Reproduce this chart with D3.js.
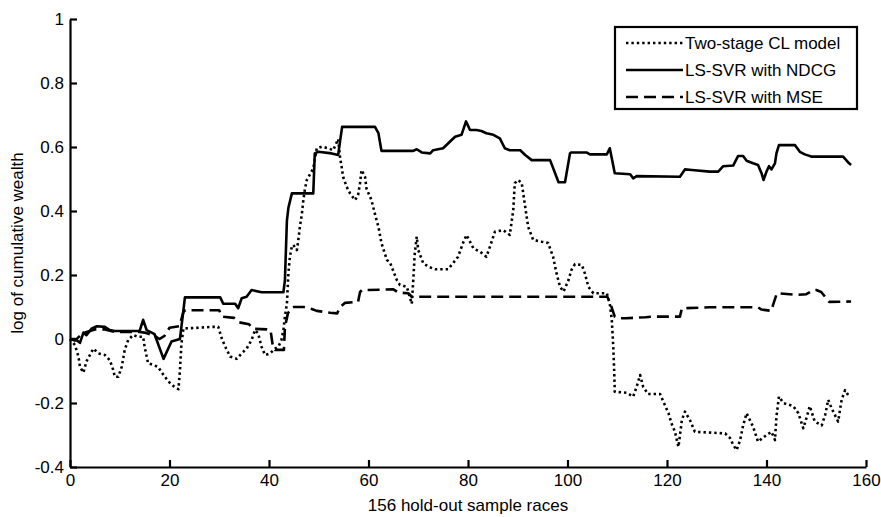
<!DOCTYPE html>
<html><head><meta charset="utf-8">
<script src="https://cdn.jsdelivr.net/npm/d3@7"></script>
<style>
body{margin:0;background:#fff}
text{font-family:"Liberation Sans",Arial,Helvetica,sans-serif}
</style>
</head><body>
<svg id="c" width="881" height="517"></svg>
<script>
// ---- data ----
const xTicks = [0, 20, 40, 60, 80, 100, 120, 140, 160];
const yTicks = [-0.4, -0.2, 0, 0.2, 0.4, 0.6, 0.8, 1];
const yTickLabels = ["-0.4", "-0.2", "0", "0.2", "0.4", "0.6", "0.8", "1"];
const seriesNames = ["Two-stage CL model", "LS-SVR with NDCG", "LS-SVR with MSE"];
const xTitle = "156 hold-out sample races";
const yTitle = "log of cumulative wealth";

// LS-SVR with NDCG (solid) [race, log wealth]
const ndcg = [[0,0],[1,0],[2,-0.012],[2.7,0.02],[3.3,0.012],[4.4,0.033],[5.4,0.04],[7,0.038],[8,0.028],[9,0.025],[14,0.025],[14.7,0.06],[15.4,0.028],[17,0.015],[18.8,-0.062],[20.4,-0.008],[22.1,0.0],[22.8,0.09],[23.1,0.13],[30.2,0.13],[30.8,0.11],[33.2,0.11],[33.8,0.096],[34.5,0.127],[35.5,0.132],[36.5,0.153],[38.5,0.146],[42.9,0.146],[43.2,0.184],[43.6,0.37],[43.9,0.41],[44.6,0.455],[48.9,0.455],[49.2,0.58],[49.9,0.585],[52.6,0.58],[53.9,0.575],[54.3,0.62],[54.7,0.663],[61.3,0.663],[62,0.643],[62.6,0.588],[69,0.588],[69.7,0.593],[70.7,0.583],[72.4,0.58],[73,0.59],[75,0.596],[76.4,0.617],[77.4,0.632],[78.7,0.638],[79.6,0.68],[80.4,0.653],[81.7,0.653],[82.7,0.65],[83.7,0.643],[85.1,0.638],[86.4,0.627],[87.4,0.596],[88.4,0.59],[90.5,0.59],[91.5,0.575],[92.8,0.559],[96.5,0.559],[98.2,0.49],[99.5,0.49],[100.5,0.58],[100.8,0.583],[103.8,0.583],[104.5,0.577],[107.9,0.577],[108.5,0.596],[109.5,0.518],[112.6,0.515],[113.2,0.502],[113.9,0.509],[122.6,0.507],[123.6,0.53],[125,0.528],[128.6,0.523],[130.3,0.523],[131.3,0.54],[133.3,0.542],[134.3,0.572],[135.3,0.572],[136,0.557],[137.3,0.549],[138.3,0.544],[139,0.518],[139.4,0.497],[140,0.523],[140.5,0.54],[141,0.53],[141.7,0.549],[142,0.58],[142.5,0.606],[145.7,0.606],[146.7,0.585],[147.7,0.577],[149,0.57],[155.4,0.57],[156.6,0.549],[157,0.544]];

// LS-SVR with MSE (dashed)
const mse = [[0,0],[1,-0.005],[2,0.01],[3,0.02],[5,0.03],[7,0.03],[9,0.022],[14,0.022],[15,0.02],[17,0.01],[18,0.0],[19,0.01],[20,0.035],[22,0.04],[22.8,0.085],[23.2,0.09],[30,0.09],[30.5,0.07],[33,0.066],[34,0.052],[36,0.046],[36.8,0.032],[39.6,0.03],[40.3,0.028],[40.8,-0.025],[41.2,-0.034],[43,-0.034],[43.2,0.037],[43.8,0.08],[44.5,0.097],[45,0.1],[47,0.1],[48.6,0.094],[49.6,0.088],[52.3,0.082],[53.7,0.08],[54.3,0.1],[55.3,0.113],[57.9,0.116],[58.3,0.147],[58.7,0.153],[65,0.155],[66,0.145],[68,0.143],[68.7,0.132],[108,0.132],[108.5,0.116],[109.5,0.07],[110,0.065],[111.7,0.065],[115.7,0.068],[117,0.07],[122.6,0.07],[123,0.096],[128.6,0.099],[138.3,0.099],[139,0.092],[141,0.088],[141.3,0.106],[142.1,0.143],[146,0.138],[148,0.14],[149.4,0.153],[150,0.153],[151,0.147],[152.6,0.116],[157,0.117]];

// Two-stage CL model (dotted)
const cl = [[0,0],[1,-0.019],[1.7,-0.055],[2,-0.087],[2.7,-0.105],[3.3,-0.07],[4.7,-0.03],[5.7,-0.045],[7,-0.05],[8,-0.066],[8.7,-0.097],[9,-0.118],[9.7,-0.118],[10.4,-0.087],[11,-0.034],[11.7,-0.003],[12.7,0.0125],[13.7,0.007],[14.7,0.007],[15,-0.024],[15.7,-0.076],[16.7,-0.081],[17.7,-0.087],[18.8,-0.1125],[19.8,-0.133],[20.8,-0.147],[21.8,-0.157],[22.1,-0.097],[22.4,-0.014],[22.8,0.033],[24.5,0.034],[28.8,0.038],[29.8,0.038],[30.5,0.002],[31.2,-0.024],[32.2,-0.055],[33.5,-0.062],[34.5,-0.045],[35.5,-0.03],[36.5,-0.003],[37.2,0.028],[37.8,0.018],[38.5,-0.024],[39.2,-0.05],[40.2,-0.045],[41.2,-0.03],[41.9,-0.024],[42.5,-0.003],[42.9,0.028],[43.2,0.07],[43.6,0.11],[43.9,0.205],[44.2,0.257],[44.6,0.29],[44.9,0.294],[45.6,0.278],[45.9,0.31],[46.2,0.35],[46.6,0.39],[46.9,0.434],[47.2,0.466],[47.6,0.497],[48.9,0.533],[49.6,0.596],[50.6,0.601],[51.9,0.596],[52.9,0.59],[53.9,0.625],[54.3,0.565],[54.6,0.538],[54.9,0.507],[55.6,0.476],[56.3,0.455],[57.3,0.434],[57.9,0.45],[58.3,0.487],[58.6,0.528],[59.3,0.507],[59.6,0.47],[60.6,0.434],[61.3,0.39],[62,0.35],[62.6,0.3],[63.7,0.247],[64.3,0.24],[65.7,0.184],[66.3,0.169],[67.7,0.163],[68.7,0.11],[69,0.184],[69.3,0.268],[69.7,0.32],[70,0.278],[71,0.237],[72,0.226],[73.4,0.218],[76,0.218],[77,0.237],[78,0.257],[79,0.3],[79.7,0.325],[80.4,0.304],[81.1,0.283],[82.4,0.273],[83.7,0.257],[84.4,0.288],[85.4,0.335],[87.1,0.34],[88.4,0.325],[89.1,0.403],[89.4,0.487],[90.1,0.497],[90.8,0.487],[91.5,0.413],[92.1,0.35],[93.1,0.31],[94.8,0.304],[96.1,0.3],[97.1,0.257],[97.8,0.205],[98.5,0.163],[99.2,0.148],[100.2,0.184],[100.8,0.216],[101.5,0.234],[102.9,0.231],[103.5,0.205],[104.2,0.163],[105.2,0.143],[107.9,0.143],[108.5,0.11],[108.9,0.06],[109.2,-0.024],[109.4,-0.106],[109.5,-0.165],[111.9,-0.168],[113.2,-0.18],[113.9,-0.149],[114.6,-0.1125],[115.2,-0.149],[116.2,-0.172],[118.6,-0.172],[120.3,-0.232],[120.9,-0.263],[121.6,-0.29],[122.3,-0.337],[123,-0.253],[123.6,-0.227],[124.6,-0.253],[125.6,-0.29],[131.7,-0.295],[132.7,-0.31],[133.3,-0.331],[134,-0.347],[134.7,-0.316],[135.3,-0.27],[136,-0.232],[137.3,-0.274],[138.3,-0.321],[140,-0.3],[141,-0.29],[141.7,-0.316],[142,-0.243],[142.5,-0.18],[143.4,-0.2],[145.4,-0.21],[146.4,-0.232],[147.4,-0.279],[148.1,-0.243],[148.7,-0.21],[149.7,-0.258],[151.1,-0.27],[151.8,-0.237],[152.4,-0.19],[153.1,-0.217],[154.4,-0.258],[155.1,-0.19],[155.8,-0.16],[156.6,-0.18]];

// ---- drawing ----
const svg = d3.select("#c");
const x = d3.scaleLinear().domain([0, 160]).range([70, 866]);
const y = d3.scaleLinear().domain([-0.4, 1]).range([467, 19]);
const fs = 17;

const line = d3.line().x(d => x(d[0])).y(d => y(d[1]));

const styles = [
  {data: cl, dash: "2.4,3", w: 2.6},
  {data: ndcg, dash: null, w: 2.6},
  {data: mse, dash: "12,6", w: 2.6}
];

styles.forEach(s => {
  svg.append("path").datum(s.data)
    .attr("d", line)
    .attr("fill", "none")
    .attr("stroke", "#000")
    .attr("stroke-width", s.w)
    .attr("stroke-linejoin", "round")
    .attr("stroke-dasharray", s.dash);
});

// axes
const xAxis = d3.axisBottom(x).tickValues(xTicks).tickFormat(d3.format("d"))
  .tickSizeInner(-7).tickSizeOuter(0).tickPadding(7);
const gx = svg.append("g").attr("transform", "translate(0,467)").call(xAxis);

const yAxis = d3.axisLeft(y).tickValues(yTicks).tickFormat((d, i) => yTickLabels[i])
  .tickSizeInner(-7).tickSizeOuter(0).tickPadding(6);
const gy = svg.append("g").attr("transform", "translate(70,0)").call(yAxis);

[gx, gy].forEach(g => {
  g.select(".domain").attr("stroke", "#000").attr("stroke-width", 2.2);
  g.selectAll(".tick line").attr("stroke", "#000").attr("stroke-width", 2.2);
  g.selectAll("text").attr("fill", "#000").style("font-size", fs + "px")
    .style("font-family", '"Liberation Sans", Arial, sans-serif');
});

// titles
svg.append("text").attr("x", x(80)).attr("y", 511).attr("text-anchor", "middle")
  .style("font-size", fs + "px").text(xTitle);
svg.append("text").attr("transform", `translate(23,${y(0.3)}) rotate(-90)`)
  .attr("text-anchor", "middle").style("font-size", fs + "px").text(yTitle);

// legend
const lg = svg.append("g");
lg.append("rect").attr("x", 615).attr("y", 27).attr("width", 242).attr("height", 82)
  .attr("fill", "#fff").attr("stroke", "#000").attr("stroke-width", 2.2);
const legendRowY = [43, 70, 97];
styles.forEach((s, i) => {
  lg.append("line").attr("x1", 626).attr("x2", 683)
    .attr("y1", legendRowY[i]).attr("y2", legendRowY[i])
    .attr("stroke", "#000").attr("stroke-width", s.w)
    .attr("stroke-dasharray", s.dash);
  lg.append("text").attr("x", 685).attr("y", legendRowY[i]).attr("dy", "0.36em")
    .style("font-size", fs + "px").text(seriesNames[i]);
});
</script>
</body></html>
